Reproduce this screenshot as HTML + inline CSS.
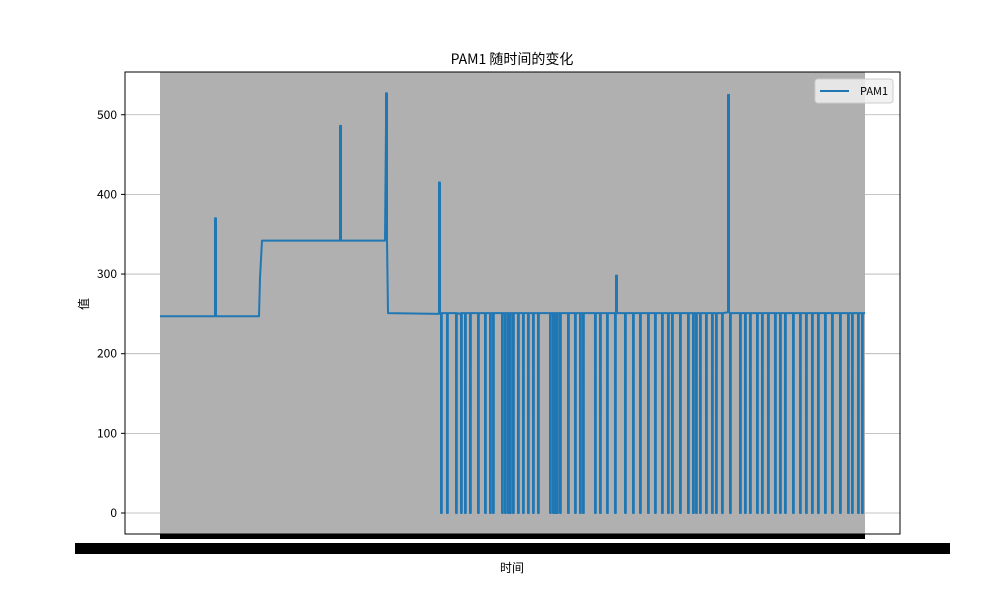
<!DOCTYPE html>
<html><head><meta charset="utf-8">
<style>
body{margin:0;background:#fff;width:1000px;height:600px;overflow:hidden;font-family:"Noto Sans CJK SC","Liberation Sans",sans-serif;}
</style></head>
<body>
<svg width="1000" height="600" viewBox="0 0 1000 600" id="svg" font-family="Noto Sans CJK SC, Liberation Sans, sans-serif">
<text x="512" y="64" text-anchor="middle" font-size="14">PAM1 随时间的变化</text>
<text x="512" y="572" text-anchor="middle" font-size="12">时间</text>
<text x="88" y="304" text-anchor="middle" font-size="12" transform="rotate(-90 88 304)">值</text>
<rect x="160" y="72" width="705" height="462" fill="#b0b0b0"/>
<g id="hgrid"></g>
<g id="series"></g>
<rect x="125" y="72" width="775" height="462" fill="none" stroke="#000" stroke-width="1"/>
<rect x="160" y="534" width="705" height="5" fill="#000"/>
<rect x="75" y="543" width="875" height="11" fill="#000"/>
<text x="80" y="553" font-size="11" fill="#000">2</text>
<g id="yaxis"></g>
<g>
<rect x="815" y="79" width="78" height="24" rx="3" fill="#f0f0f0" fill-opacity="0.85" stroke="#ccc"/>
<line x1="820" y1="91" x2="849" y2="91" stroke="#1f77b4" stroke-width="2"/>
<text x="860" y="95" font-size="11">PAM1</text>
</g>
</svg>
<script>
const yTicks=[0,100,200,300,400,500];
const baseTimes=[0,55,55,56,56,99,100,102,180,180,181,181,225,226,226,227,227,228,279,279,280,280,300,350,456,456,457,457,568,568,569,569,705];
const baseValues=[247,247,370,370,247,247,295,342,342,486,486,342,342,488,527,527,342,251,250,415,415,251,250,251,251,298,298,251,252,525,525,252,251];
const dropTimes=[281,287,296,301,305,310,318,325,330,333,342,345,348,350,353,358,363,368,373,378,390,393,395,397,400,408,415,420,423,435,440,447,455,465,473,480,488,495,502,508,512,520,528,533,536,540,546,552,556,562,570,580,585,590,597,602,608,615,620,625,633,640,646,652,658,665,672,680,688,692,698,702];
const X=t=>160+t;
const Y=v=>513-v*0.7965;
const ns="http://www.w3.org/2000/svg";
const hg=document.getElementById('hgrid'),ya=document.getElementById('yaxis');
yTicks.forEach(v=>{
 const l=document.createElementNS(ns,'line');
 l.setAttribute('x1',125);l.setAttribute('x2',900);l.setAttribute('y1',Y(v));l.setAttribute('y2',Y(v));
 l.setAttribute('stroke','#b0b0b0');l.setAttribute('stroke-width','0.8');
 
 
 hg.appendChild(l);
 const tk=document.createElementNS(ns,'line');
 tk.setAttribute('x1',121);tk.setAttribute('x2',125);tk.setAttribute('y1',Y(v));tk.setAttribute('y2',Y(v));tk.setAttribute('stroke','#000');
 
 
 ya.appendChild(tk);
 const t=document.createElementNS(ns,'text');
 t.setAttribute('x',117);t.setAttribute('y',Y(v)+4);t.setAttribute('text-anchor','end');t.setAttribute('font-size','12');
 t.textContent=v;
 
 
 ya.appendChild(t);
});
let pts=[];
for(let i=0;i<baseTimes.length;i++)pts.push([baseTimes[i],baseValues[i]]);
dropTimes.forEach(t=>{pts.push([t-0.01,251],[t,0],[t+0.8,0],[t+0.81,251]);});
pts.sort((a,b)=>a[0]-b[0]);
const p=document.createElementNS(ns,'polyline');
p.setAttribute('points',pts.map(q=>X(q[0]).toFixed(2)+','+Y(q[1]).toFixed(2)).join(' '));
p.setAttribute('fill','none');p.setAttribute('stroke','#1f77b4');p.setAttribute('stroke-width','2');p.setAttribute('stroke-linejoin','round');


document.getElementById('series').appendChild(p);
</script>
</body></html>
